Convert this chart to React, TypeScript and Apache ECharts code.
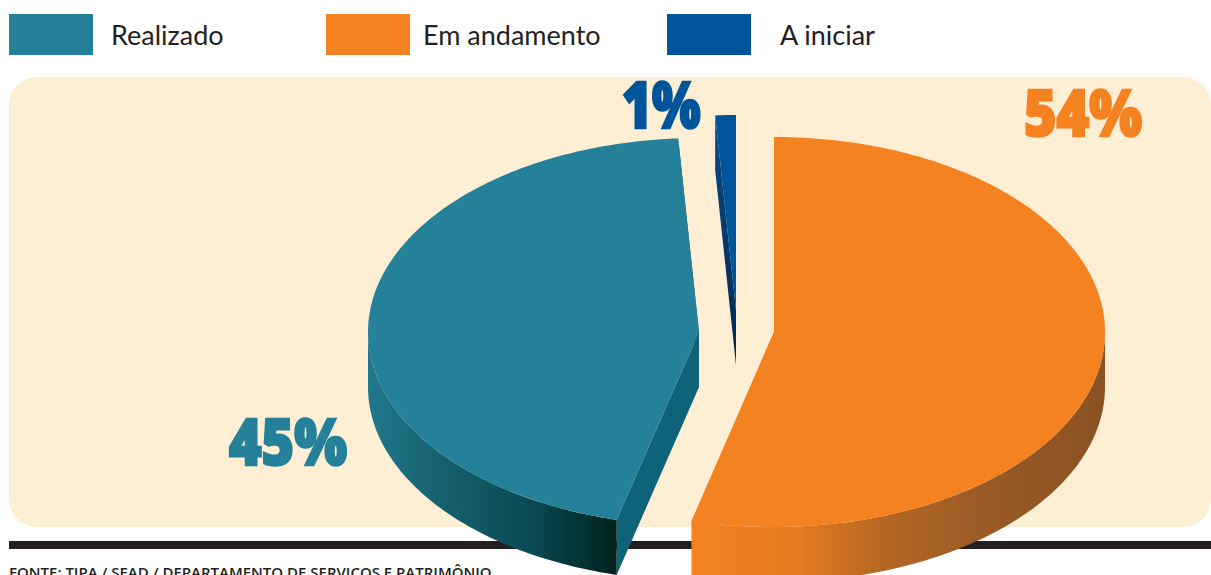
import React, { useEffect, useRef } from "react";
import * as echarts from "echarts";

const categories = ["Realizado", "Em andamento", "A iniciar"];
const values = [45, 54, 1];
const source = "FONTE: TIPA / SEAD / DEPARTAMENTO DE SERVIÇOS E PATRIMÔNIO";
// clockwise order of the slices from 12 o'clock
const clockwiseOrder = [1, 0, 2];

const colors = ["#25819A", "#F58220", "#00559A"];
const radii = [[331, 194], [331, 195], [331, 195]];
const DEPTH = 55;
const centers = [[699, 332], [774, 332], [736, 310]];
const labelAt = [[229, 408], [1024, 79], [622, 71]];
const labelScale = [0.87, 0.87, 0.8];

const total = values.reduce((a, b) => a + b, 0);
function startAngle(index: number) {
  let acc = 0;
  for (const i of clockwiseOrder) {
    if (i === index) break;
    acc += values[i];
  }
  return (acc / total) * Math.PI * 2;
}
const rim = (index: number, a: number, dy = 0) => [
  centers[index][0] + Math.sin(a) * radii[index][0],
  centers[index][1] - Math.cos(a) * radii[index][1] + dy,
];
function arc(index: number, a0: number, a1: number, dy = 0) {
  const pts: number[][] = [];
  const n = Math.max(2, Math.ceil((Math.abs(a1 - a0) / Math.PI) * 180));
  for (let i = 0; i <= n; i++) pts.push(rim(index, a0 + ((a1 - a0) * i) / n, dy));
  return pts;
}
const grad = (x0: number, x1: number, stops: [number, string][]) =>
  new echarts.graphic.LinearGradient(x0, 0, x1, 0, stops.map(([offset, color]) => ({ offset, color })), true);

const wallFill = [
  grad(368, 616, [[0, "#21788C"], [0.3, "#15606F"], [0.65, "#0B4A54"], [1, "#00231F"]]),
  grad(690, 1105, [[0, "#F58220"], [0.25, "#E67C20"], [0.45, "#B86824"], [0.7, "#9A5A24"], [1, "#8A5222"]]),
  "#00559A",
];
const faceFill = ["#0F6378", "#F58220", new echarts.graphic.LinearGradient(0, 0, 0, 1, [
  { offset: 0, color: "#0A4A88" }, { offset: 1, color: "#06264F" },
])];

function makeRenderItem(index: number) {
  return (_params: any, api: any) => {
    const value = api.value(0);
    const a0 = startAngle(index);
    const a1 = a0 + (value / total) * Math.PI * 2;
    const c = centers[index];
    const low = [c[0], c[1] + DEPTH];
    const children: any[] = [];
    // cut faces
    const faces = [a0, a1].map((a) => [c, low, rim(index, a, DEPTH), rim(index, a)]);
    for (const pts of faces) {
      children.push({ type: "polygon", shape: { points: pts }, style: { fill: faceFill[index] } });
    }
    // front wall
    const w0 = Math.max(a0, Math.PI / 2);
    const w1 = Math.min(a1, (Math.PI * 3) / 2);
    if (w1 > w0) {
      children.push({
        type: "polygon",
        shape: { points: [...arc(index, w0, w1), ...arc(index, w1, w0, DEPTH)] },
        style: { fill: wallFill[index] },
      });
    }
    // top
    children.push({
      type: "polygon",
      shape: { points: [c, ...arc(index, a0, a1)] },
      style: { fill: colors[index] },
    });
    // value label
    children.push({
      type: "text",
      x: labelAt[index][0],
      y: labelAt[index][1],
      scaleX: labelScale[index],
      style: {
        text: `${value}%`,
        fontFamily: "Noto Sans",
        fontWeight: 900,
        fontSize: 64,
        fill: colors[index],
        stroke: colors[index],
        lineWidth: 2.5,
        lineJoin: "round",
      },
    });
    return { type: "group", children };
  };
}

const legendLeft = [9, 326, 667];
const legendPad = [13, 8, 24];

export default function App() {
  const ref = useRef<HTMLDivElement>(null);
  useEffect(() => {
    const chart = echarts.init(ref.current!, undefined, { renderer: "svg" });
    chart.setOption({
      animation: false,
      backgroundColor: "#FFFFFF",
      legend: categories.map((name, i) => ({
        data: [name],
        left: legendLeft[i],
        top: 14,
        padding: 0,
        icon: "rect",
        itemWidth: 84,
        itemHeight: 41,
        selectedMode: false,
        textStyle: {
          fontFamily: "Lato",
          fontSize: 27,
          color: "#231F20",
          padding: [0, 0, 8, legendPad[i]],
        },
      })),
      graphic: [
        {
          type: "rect",
          z: 0,
          shape: { x: 9, y: 77, width: 1202, height: 450, r: 28 },
          style: { fill: "#FDEED4" },
        },
        {
          type: "rect",
          z: 0,
          shape: { x: 9, y: 541, width: 1202, height: 8 },
          style: { fill: "#231F20" },
        },
        {
          type: "text",
          z: 0,
          x: 9,
          y: 564,
          style: {
            text: source,
            fontFamily: "Open Sans",
            fontWeight: 600,
            fontSize: 15,
            fill: "#231F20",
          },
        },
      ],
      series: clockwiseOrder.slice().reverse().map((i) => ({
        type: "custom",
        name: categories[i],
        coordinateSystem: "none",
        itemStyle: { color: colors[i] },
        data: [[values[i]]],
        renderItem: makeRenderItem(i),
      })),
    });
    return () => chart.dispose();
  }, []);
  return (
    <div style={{ position: "fixed", left: 0, top: 0, width: 1211, height: 575, overflow: "hidden" }}>
      <div ref={ref} style={{ width: 1211, height: 575 }} />
    </div>
  );
}
